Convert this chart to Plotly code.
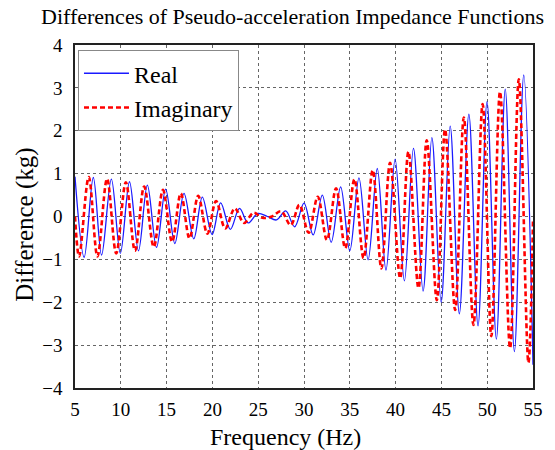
import plotly.graph_objects as go

# Extrema of the Real curve (Hz, kg)
real_f = [5.0, 6.0, 7.0, 7.9, 8.97, 9.95, 10.95, 11.93, 12.9, 13.9,
          14.9, 15.9, 16.9, 17.97, 18.9, 19.97, 20.9, 21.96, 22.96, 23.9,
          24.95, 26.0, 27.0, 28.0, 28.98, 30.0, 31.0, 32.0, 32.97, 34.0,
          35.0, 36.0, 37.0, 38.0, 38.95, 39.95, 40.96, 41.95, 43.0, 43.96,
          44.97, 45.96, 46.96, 48.0, 49.0, 49.98, 51.0, 51.97, 52.97, 53.99,
          55.0]
real_v = [0.93, -0.95, 0.91, -0.90, 0.87, -0.86, 0.81, -0.80, 0.73, -0.72,
          0.64, -0.63, 0.54, -0.52, 0.45, -0.42, 0.32, -0.30, 0.19, -0.15,
          0.07, 0.0, -0.08, 0.13, -0.24, 0.31, -0.43, 0.50, -0.60, 0.69,
          -0.80, 0.90, -1.01, 1.12, -1.25, 1.34, -1.50, 1.59, -1.74, 1.84,
          -2.0, 2.11, -2.27, 2.39, -2.55, 2.68, -2.86, 2.97, -3.15, 3.30,
          -3.46]

# Extrema of the Imaginary curve (Hz, kg)
imag_f = [5.0, 5.45, 6.5, 7.45, 8.5, 9.5, 10.55, 11.55, 12.55, 13.6,
          14.6, 15.6, 16.55, 17.5, 18.45, 19.45, 20.4, 21.4, 22.45, 23.45,
          24.5, 25.45, 26.5, 27.5, 28.55, 29.5, 30.5, 31.5, 32.5, 33.5,
          34.5, 35.5, 36.5, 37.5, 38.45, 39.4, 40.5, 41.4, 42.5, 43.4,
          44.5, 45.4, 46.5, 47.45, 48.5, 49.5, 50.45, 51.4, 52.5, 53.45,
          54.5, 55.0]
imag_v = [0.0, -0.93, 0.92, -0.93, 0.88, -0.86, 0.80, -0.80, 0.70, -0.71,
          0.62, -0.59, 0.54, -0.51, 0.48, -0.40, 0.36, -0.28, 0.19, -0.15,
          0.09, -0.03, 0.0, 0.12, -0.20, 0.27, -0.38, 0.46, -0.55, 0.66,
          -0.74, 0.87, -0.97, 1.08, -1.21, 1.25, -1.44, 1.51, -1.67, 1.78,
          -1.95, 2.03, -2.18, 2.31, -2.53, 2.62, -2.79, 2.91, -3.07, 3.20,
          -3.41, -0.10]

x_ticks = [5, 10, 15, 20, 25, 30, 35, 40, 45, 50, 55]
y_ticks = [-4, -3, -2, -1, 0, 1, 2, 3, 4]

FONT = "Liberation Serif"

fig = go.Figure()
fig.add_trace(go.Scatter(
    x=real_f, y=real_v, mode="lines", name="Real",
    line=dict(color="#1a1aff", width=1.3, shape="spline", smoothing=1.0)))
fig.add_trace(go.Scatter(
    x=imag_f, y=imag_v, mode="lines", name="Imaginary",
    line=dict(color="#ff0000", width=2.6, dash="5px,3px", shape="spline", smoothing=1.0)))

axis_common = dict(
    showline=True, mirror=True, linecolor="#222", linewidth=1.5,
    showgrid=True, gridcolor="#666", griddash="dot", gridwidth=1,
    zeroline=False, ticks="", tickfont=dict(family=FONT, size=19, color="black"),
)

fig.update_layout(
    width=555, height=450,
    margin=dict(l=75, r=18, t=45, b=62),
    paper_bgcolor="white", plot_bgcolor="white",
    font=dict(family=FONT, color="black"),
    title=dict(text="Differences of Pseudo-acceleration Impedance Functions",
               font=dict(family=FONT, size=22, color="black"),
               x=0.527, xref="container", xanchor="center",
               y=0.963, yref="container", yanchor="middle"),
    xaxis=dict(range=[5, 55], tickvals=x_ticks, ticklabelstandoff=3, **axis_common),
    yaxis=dict(range=[-4, 4], tickvals=y_ticks, ticklabelstandoff=7, **axis_common),
    legend=dict(x=0.0065, y=0.985, xanchor="left", yanchor="top",
                bgcolor="white", bordercolor="#888", borderwidth=1,
                font=dict(family=FONT, size=24, color="black"),
                itemwidth=45, tracegroupgap=0),
    showlegend=True,
    annotations=[
        dict(text="Frequency (Hz)", xref="paper", yref="paper",
             x=0.46, y=-0.143, xanchor="center", yanchor="middle",
             showarrow=False, font=dict(family=FONT, size=24, color="black")),
        dict(text="Difference (kg)", xref="paper", yref="paper",
             x=-0.11, y=0.475, xanchor="center", yanchor="middle", textangle=-90,
             showarrow=False, font=dict(family=FONT, size=25, color="black")),
    ],
)

fig.write_html("out.html")
